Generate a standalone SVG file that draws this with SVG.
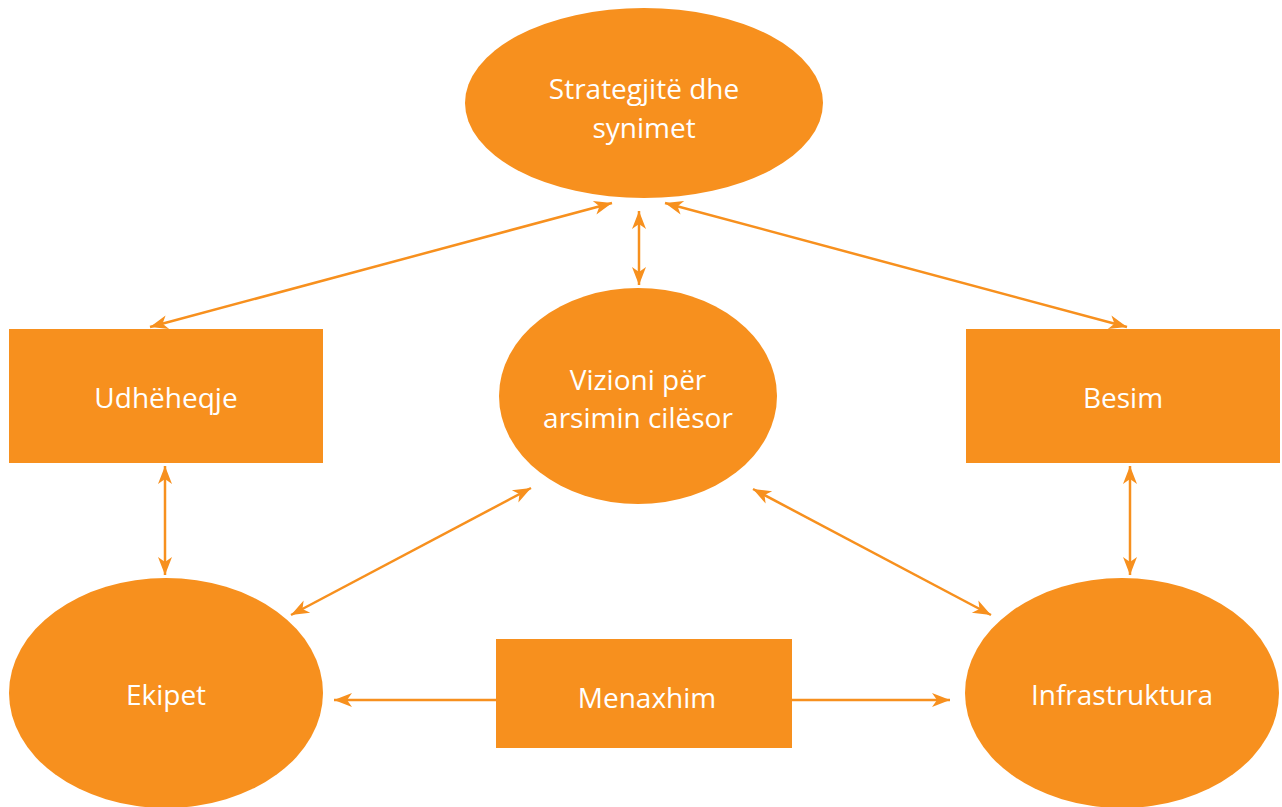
<svg xmlns="http://www.w3.org/2000/svg" width="1282" height="807" viewBox="0 0 1282 807">
<style>
.n{fill:#F7901E}
.t{fill:#fff;font-family:"Open Sans","Noto Sans",sans-serif;font-size:28px;text-anchor:middle}
.c{stroke:#F7901E;stroke-width:2.5;fill:none;marker-start:url(#ah);marker-end:url(#ah)}
.s{stroke:#F7901E;stroke-width:2.5;fill:none;marker-end:url(#ah)}
</style>
<defs>
<marker id="ah" markerUnits="userSpaceOnUse" markerWidth="22" markerHeight="18" viewBox="-1 -9 21 18" refX="18" refY="0" orient="auto-start-reverse">
<path d="M0,-7 L18,0 L0,7 L5,0 Z" fill="#F7901E"/>
</marker>
</defs>
<rect width="1282" height="807" fill="#fff"/>
<g id="connectors">
<line class="c" x1="612" y1="203" x2="150" y2="327"/>
<line class="c" x1="639" y1="211" x2="639" y2="285"/>
<line class="c" x1="665" y1="203" x2="1127" y2="327"/>
<line class="c" x1="165" y1="466" x2="165" y2="575"/>
<line class="c" x1="531" y1="488" x2="291" y2="615"/>
<line class="c" x1="753" y1="489" x2="991" y2="615"/>
<line class="c" x1="1130" y1="466" x2="1130" y2="575"/>
<line class="s" x1="496" y1="700" x2="334" y2="700"/>
<line class="s" x1="792" y1="700" x2="950" y2="700"/>
</g>
<g id="strategjite"><ellipse class="n" cx="644" cy="103" rx="179" ry="95"/><text class="t" x="644" y="99">Strategjitë dhe</text><text class="t" x="644" y="138">synimet</text></g>
<g id="vizioni"><ellipse class="n" cx="638" cy="396" rx="139" ry="108"/><text class="t" x="638" y="390">Vizioni për</text><text class="t" x="638" y="428">arsimin cilësor</text></g>
<g id="udheheqje"><rect class="n" x="9" y="329" width="314" height="134"/><text class="t" x="166" y="408">Udhëheqje</text></g>
<g id="besim"><rect class="n" x="966" y="329" width="314" height="134"/><text class="t" x="1123" y="408">Besim</text></g>
<g id="ekipet"><ellipse class="n" cx="166" cy="693" rx="157" ry="115"/><text class="t" x="166" y="705">Ekipet</text></g>
<g id="menaxhim"><rect class="n" x="496" y="639" width="296" height="109"/><text class="t" x="647" y="708">Menaxhim</text></g>
<g id="infrastruktura"><ellipse class="n" cx="1122" cy="693" rx="157" ry="115"/><text class="t" x="1122" y="705">Infrastruktura</text></g>
</svg>
